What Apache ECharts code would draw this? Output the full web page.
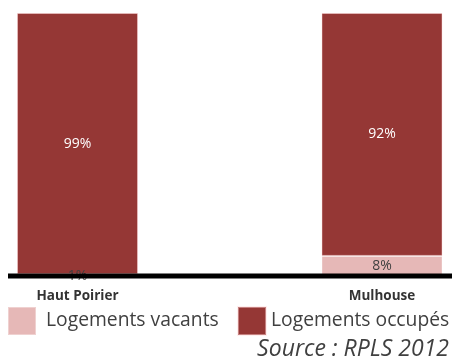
<!DOCTYPE html>
<html><head><meta charset="utf-8">
<script src="https://cdn.jsdelivr.net/npm/echarts@6/dist/echarts.min.js"></script>
<style>html,body{margin:0;padding:0;background:#fff}#c{width:452px;height:362px}</style>
</head><body><div id="c"></div>
<script>
var categories = ['Haut Poirier', 'Mulhouse'];
var vacants = [1, 8];
var occupes = [99, 92];
var seriesNames = ['Logements vacants', 'Logements occupés'];
var sourceText = 'Source : RPLS 2012';

var chart = echarts.init(document.getElementById('c'));
var FONT = '"Open Sans", sans-serif';
function legendAt(left, name, pad) {
  return {
    left: left, top: 306, padding: 0, itemWidth: 28, itemHeight: 28, icon: 'rect',
    textStyle: { fontSize: 19.3, color: '#404040', fontFamily: FONT, padding: [0, 0, 0, pad] },
    data: [name]
  };
}
chart.setOption({
  animation: false,
  grid: { left: 77.5, right: 70, top: 13, bottom: 85 },
  xAxis: {
    type: 'category', data: categories, boundaryGap: false,
    axisLine: { show: false }, axisTick: { show: false },
    axisLabel: { color: '#333', fontWeight: 'bold', fontSize: 13.5, fontFamily: FONT, margin: 12 }
  },
  yAxis: { type: 'value', min: 0, max: 100, show: false, splitLine: { show: false } },
  legend: [legendAt(7, seriesNames[0], 5), legendAt(237, seriesNames[1], 0)],
  series: [
    { name: seriesNames[0], type: 'bar', stack: 's', barWidth: 121, data: vacants,
      itemStyle: { color: '#E6B8B7', borderColor: 'rgba(255,255,255,0.35)', borderWidth: 1 },
      label: { show: true, position: 'inside', formatter: '{c}%', color: '#404040', fontSize: 14, fontFamily: FONT } },
    { name: seriesNames[1], type: 'bar', stack: 's', barWidth: 121, data: occupes,
      itemStyle: { color: '#953735', borderColor: 'rgba(255,220,220,0.45)', borderWidth: 1 },
      label: { show: true, position: 'inside', formatter: '{c}%', color: '#fff', fontSize: 14, fontFamily: FONT } }
  ]
});
var y0 = chart.convertToPixel({ yAxisIndex: 0 }, 0);
chart.setOption({
  graphic: [
    { type: 'line', z: 100, shape: { x1: 8, y1: y0 - 1, x2: 452, y2: y0 - 1 }, style: { stroke: '#000', lineWidth: 5 } },
    { type: 'text', right: 3, top: 338, style: { text: sourceText, font: 'italic 23px ' + FONT, fill: '#404040' } }
  ]
});
</script></body></html>
